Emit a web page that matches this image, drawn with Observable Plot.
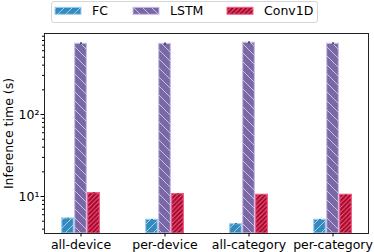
<!DOCTYPE html>
<html><head><meta charset="utf-8">
<script src="https://cdn.jsdelivr.net/npm/d3@7"></script>
<script src="https://cdn.jsdelivr.net/npm/@observablehq/plot@0.6"></script>
<style>
body{margin:0;background:#fff;font-family:"DejaVu Sans",sans-serif;}
#chart{position:relative;width:374px;height:252px;overflow:hidden}
svg{display:block}
</style></head><body><div id="chart"></div>
<script>
const groups = ["all-device", "per-device", "all-category", "per-category"];
const models = ["FC", "LSTM", "Conv1D"];
const fcValues = [5.4, 5.2, 4.6, 5.2];
const lstmValues = [728, 725, 750, 728];
const conv1dValues = [11.0, 10.7, 10.5, 10.5];
const fcErr = [0.05, 0.05, 0.05, 0.05];
const lstmErr = [20, 20, 20, 20];
const conv1dErr = [0.1, 0.1, 0.1, 0.1];
const yTicks = [10, 100];
const yTickLabels = ["10¹", "10²"];
const yMinorTicks = [4, 5, 6, 7, 8, 9, 20, 30, 40, 50, 60, 70, 80, 90, 200, 300, 400, 500, 600, 700, 800, 900];
const yDomain = [3.54, 973];
const yLabel = "Inference time (s)";

const fills = ["#348ABD", "#7A68A6", "#A60628"];
const edges = ["#9fd0ee", "#c9bfe6", "#f2608a"];
const hatchSpacing = [8, 9, 4.5];
const hatchDir = ["/", "\\", "/"];

const valuesByModel = [fcValues, lstmValues, conv1dValues];
const errByModel = [fcErr, lstmErr, conv1dErr];
const data = groups.flatMap((g, i) => models.map((m, k) => ({
  group: g, model: m, k, value: valuesByModel[k][i], err: errByModel[k][i]
})));

const chart = document.getElementById("chart");

// shared pattern defs
const defs = d3.select(chart).append("svg").attr("width", 0).attr("height", 0)
  .style("position", "absolute").append("defs");
models.forEach((m, k) => {
  const s = hatchSpacing[k];
  const p = defs.append("pattern").attr("id", "hatch" + k)
    .attr("patternUnits", "userSpaceOnUse").attr("width", s).attr("height", s);
  p.append("rect").attr("width", s).attr("height", s).attr("fill", fills[k]);
  const segs = hatchDir[k] === "/"
    ? [[0, s, s, 0], [-s, s, s, -s], [0, 2 * s, 2 * s, 0]]
    : [[0, 0, s, s], [-s, 0, s, 2 * s], [0, -s, 2 * s, s]];
  segs.forEach(([x1, y1, x2, y2]) => p.append("line")
    .attr("x1", x1).attr("y1", y1).attr("x2", x2).attr("y2", y2)
    .attr("stroke", edges[k]).attr("stroke-width", 1));
});

// legend
const leg = d3.select(chart).append("svg").attr("width", 374).attr("height", 26);
leg.append("rect").attr("x", 51.5).attr("y", 1.5).attr("width", 266).attr("height", 21)
  .attr("rx", 2.5).attr("fill", "#fff").attr("stroke", "#d5d5d5");
const legX = [55, 133, 227];
models.forEach((m, k) => {
  leg.append("rect").attr("x", legX[k]).attr("y", 7.3).attr("width", 26).attr("height", 7)
    .attr("fill", `url(#hatch${k})`).attr("stroke", edges[k]).attr("stroke-width", 1);
  leg.append("text").attr("x", legX[k] + 37).attr("y", 15).text(m)
    .attr("font-size", "12.5px").attr("font-family", "DejaVu Sans").attr("fill", "#000");
});

const plot = Plot.plot({
  width: 374,
  height: 226,
  marginTop: 7,
  marginBottom: 19,
  marginLeft: 44,
  marginRight: 6,
  style: {fontFamily: "DejaVu Sans", fontSize: "12.5px", color: "#000", background: "transparent"},
  x: {type: "band", domain: groups, paddingInner: 0.541, paddingOuter: 0.1765, axis: null},
  y: {type: "log", domain: yDomain, axis: null},
  marks: [
    ...models.map((m, k) => Plot.barY(data.filter(d => d.k === k), {
      x: "group", y1: yDomain[0], y2: "value",
      fill: `url(#hatch${k})`, stroke: edges[k], strokeWidth: 1.2,
      insetLeft: k * 13 + 0.6, insetRight: (2 - k) * 13 + 0.6
    })),
    ...models.map((m, k) => Plot.ruleX(data.filter(d => d.k === k), {
      x: "group", y1: d => d.value - d.err, y2: d => d.value + d.err,
      dx: (k - 1) * 13, stroke: "#000", strokeWidth: 1.2
    })),
    Plot.frame({stroke: "#222", strokeWidth: 1}),
    Plot.axisX({tickSize: 3.5, tickPadding: 3, fontSize: "12.5px", label: null, stroke: "#000"}),
    Plot.axisY(yTicks, {tickSize: 3.5, tickPadding: 1.5, fontSize: "12.5px", label: null,
      tickFormat: d => yTickLabels[yTicks.indexOf(d)]}),
    Plot.axisY(yMinorTicks, {tickSize: 2, label: null, tickFormat: () => ""}),
    Plot.text([yLabel], {frameAnchor: "left", textAnchor: "middle", rotate: -90, dx: -36, fontSize: "12.5px", fill: "#000"})
  ]
});
chart.appendChild(plot);
</script></body></html>
